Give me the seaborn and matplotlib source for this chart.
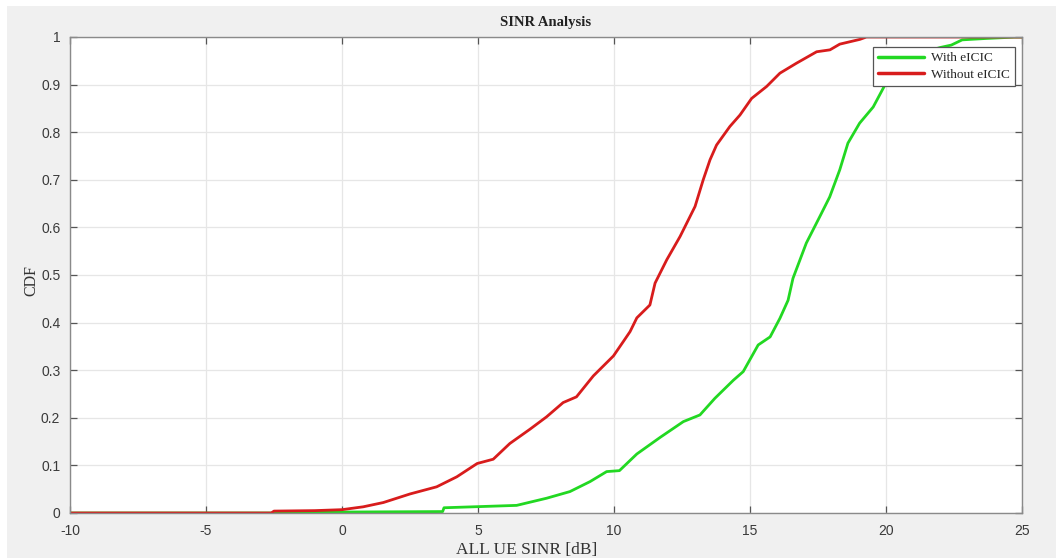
import numpy as np
import pandas as pd
import matplotlib
matplotlib.use("Agg")
import matplotlib.pyplot as plt
from matplotlib.patches import Rectangle
import seaborn as sns

# ---- data ----
sinr_without = [-10, -2.6, -2.5, -1, 0, 0.78, 1.52, 2.5, 3.48, 4.22, 4.97, 5.56, 6.17, 6.91,
                7.52, 8.13, 8.62, 9.24, 9.98, 10.34, 10.59, 10.84, 11.32, 11.51, 11.94, 12.43,
                12.98, 13.28, 13.53, 13.77, 14.26, 14.63, 15.06, 15.61, 16.1, 16.71, 17.45,
                17.94, 18.3, 19.04, 19.28, 25]
cdf_without = [0, 0, 0.004, 0.005, 0.007, 0.013, 0.022, 0.040, 0.055, 0.076, 0.104, 0.113,
               0.146, 0.176, 0.202, 0.232, 0.244, 0.288, 0.330, 0.36, 0.381, 0.41, 0.437,
               0.483, 0.532, 0.581, 0.644, 0.70, 0.742, 0.773, 0.812, 0.836, 0.871, 0.896,
               0.924, 0.945, 0.969, 0.973, 0.985, 0.995, 1.0, 1.0]

sinr_with = [-10, -2.5, 0, 3.7, 3.75, 6.42, 7.52, 8.38, 9.12, 9.73, 10.2, 10.84, 11.7,
             12.55, 13.16, 13.71, 14.39, 14.75, 15.3, 15.74, 16.1, 16.4, 16.58, 17.07, 17.56,
             17.93, 18.3, 18.6, 19.03, 19.53, 19.96, 20.5, 21, 21.5, 22, 22.4, 22.8, 23.7,
             24.8, 25]
cdf_with = [0, 0, 0.002, 0.003, 0.011, 0.016, 0.031, 0.045, 0.066, 0.087, 0.089, 0.124,
            0.159, 0.192, 0.206, 0.241, 0.279, 0.297, 0.353, 0.370, 0.409, 0.447, 0.493,
            0.567, 0.622, 0.664, 0.721, 0.777, 0.819, 0.853, 0.899, 0.93, 0.955, 0.97, 0.978,
            0.983, 0.994, 0.997, 1.0, 1.0]

series_names = ["With eICIC", "Without eICIC"]
series_colors = ["#22d822", "#d81c1c"]
x_ticks = [-10, -5, 0, 5, 10, 15, 20, 25]
y_ticks = [0, 0.1, 0.2, 0.3, 0.4, 0.5, 0.6, 0.7, 0.8, 0.9, 1]
y_tick_labels = ["0", "0.1", "0.2", "0.3", "0.4", "0.5", "0.6", "0.7", "0.8", "0.9", "1"]
x_tick_labels = ["-10", "-5", "0", "5", "10", "15", "20", "25"]

df = pd.concat([
    pd.DataFrame({"sinr": sinr_with, "cdf": cdf_with, "series": series_names[0]}),
    pd.DataFrame({"sinr": sinr_without, "cdf": cdf_without, "series": series_names[1]}),
], ignore_index=True)

sns.set_theme(style="white")
plt.rcParams["font.family"] = ["Liberation Sans", "DejaVu Sans"]
plt.rcParams["axes.unicode_minus"] = False

W, H = 1056, 559
fig = plt.figure(figsize=(W / 100, H / 100), dpi=100, facecolor="white")
# MATLAB-like grey figure panel
fig.patches.append(Rectangle((7 / W, 1 - 558 / H), (W - 7) / W, (558 - 6) / H,
                             transform=fig.transFigure, facecolor="#f0f0f0",
                             edgecolor="none", zorder=-10))

ax = fig.add_axes([70 / W, 1 - 513 / H, (1022 - 70) / W, (513 - 37) / H])
ax.set_facecolor("white")

sns.lineplot(data=df, x="sinr", y="cdf", hue="series", palette=series_colors,
             hue_order=series_names, linewidth=2.0, ax=ax, sort=False,
             estimator=None, legend=False)

ax.set_xlim(-10, 25)
ax.set_ylim(0, 1)
ax.set_xticks(x_ticks)
ax.set_xticklabels(x_tick_labels)
ax.set_yticks(y_ticks)
ax.set_yticklabels(y_tick_labels)
ax.grid(True, color="#e6e6e6", linewidth=0.9)
ax.set_axisbelow(True)

for s in ax.spines.values():
    s.set_visible(True)
    s.set_color("#8a8a8a")
    s.set_linewidth(1.0)

ax.tick_params(direction="in", length=5, width=0.9, color="#555555",
               top=True, right=True, bottom=True, left=True,
               labelsize=10, labelcolor="#3a3a3a")
ax.tick_params(axis="x", pad=8)
ax.tick_params(axis="y", pad=7)

serif = ["Liberation Serif", "DejaVu Serif"]
ax.set_title("SINR Analysis", fontsize=10.5, fontweight="bold", family=serif,
             color="#222222", pad=8)
ax.set_xlabel("ALL UE SINR [dB]", fontsize=12.5, family=serif, color="#333333")
ax.xaxis.set_label_coords((527 - 70) / 952, -(554 - 513) / 476)
ax.xaxis.label.set_va("baseline")
ax.set_ylabel("CDF", fontsize=11.5, family=serif, color="#333333")
ax.yaxis.set_label_coords(-(70 - 39) / 952, (513 - 281) / 476)

handles = [plt.Line2D([], [], color=c, linewidth=2.5) for c in series_colors]
leg = ax.legend(handles, series_names, loc="upper right", bbox_to_anchor=(0.9965, 0.988),
                prop={"family": serif, "size": 9.5}, frameon=True, fancybox=False,
                handlelength=3.5, handletextpad=0.5, borderpad=0.4, labelspacing=0.35,
                borderaxespad=0.3)
leg.get_frame().set_edgecolor("#555555")
leg.get_frame().set_linewidth(0.9)
leg.get_frame().set_facecolor("white")
leg.get_frame().set_alpha(1.0)

fig.savefig("out.png", dpi=100, facecolor=fig.get_facecolor())
